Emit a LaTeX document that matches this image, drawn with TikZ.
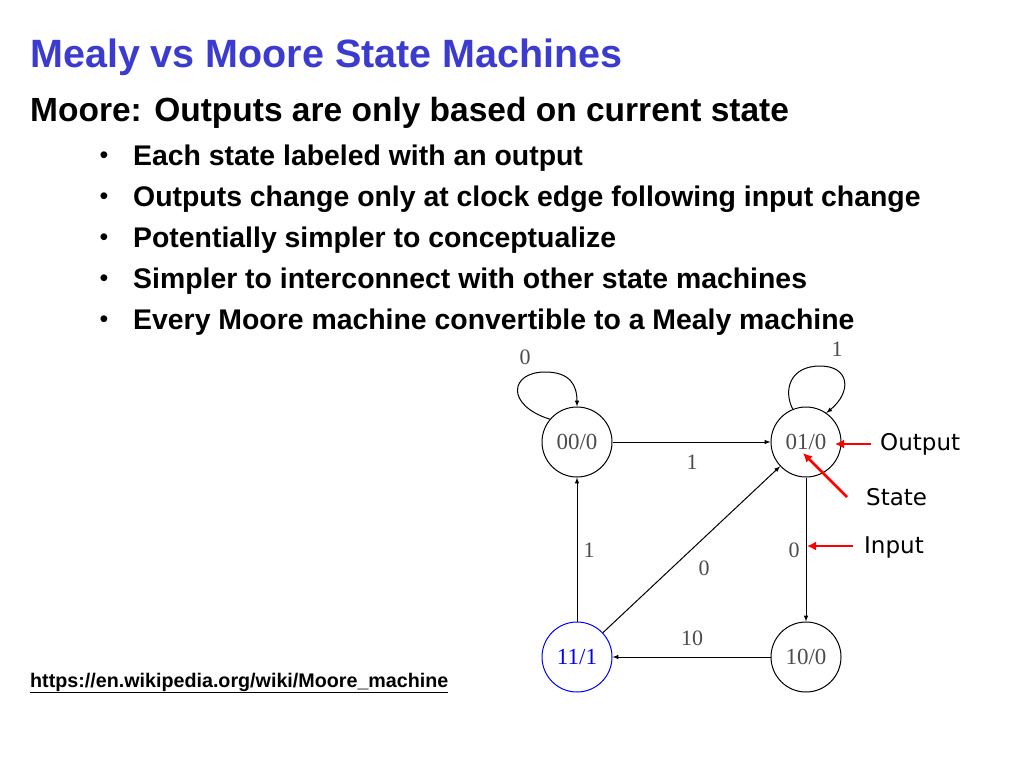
\documentclass[tikz,border=0pt]{standalone}
\usepackage{fontspec}
\setmainfont{Liberation Sans}
\newfontfamily\serifface{Liberation Serif}
\newfontfamily\labelface{DejaVu Sans}
\usetikzlibrary{automata, positioning, arrows, arrows.meta}
\definecolor{titleblue}{RGB}{59,59,208}
\tikzset{
x=1pt, y=-1pt,
>=latex, % filled arrow heads
every state/.style={draw, line width=1pt, minimum size=70pt, inner sep=0pt, font=\serifface\fontsize{23}{23}\selectfont, text=black!70},
edgelabel/.style={font=\serifface\fontsize{22}{22}\selectfont, text=black!70},
bullettext/.style={anchor=west, font=\bfseries\fontsize{28.4}{28.4}\selectfont},
hint/.style={anchor=center, font=\labelface\fontsize{23}{23}\selectfont},
pointer/.style={-{Latex[length=9pt,width=9pt]}, red, line width=2.5pt},
edge/.style={->, line width=1pt},
}
\begin{document}
\begin{tikzpicture}
        \useasboundingbox[fill=white] (0,0) rectangle (1024,768);
        \node[anchor=west, inner xsep=0pt, text=titleblue, font=\bfseries\fontsize{39.5}{39.5}\selectfont] (title) at (30,57) {Mealy vs Moore State Machines};
        \node[anchor=west, inner xsep=0pt, font=\bfseries\fontsize{33.5}{33.5}\selectfont] (moore) at (30,113) {Moore: Outputs are only based on current state};
        \foreach \y/\t [count=\i] in {158/Each state labeled with an output,
          199/Outputs change only at clock edge following input change,
          240/Potentially simpler to conceptualize,
          281/Simpler to interconnect with other state machines,
          322/Every Moore machine convertible to a Mealy machine} {
          \node[font=\fontsize{25}{25}\selectfont] (dot\i) at (104,\y) {\textbullet};
          \node[bullettext, inner xsep=0pt] (item\i) at (133,\y) {\t};
        }
        \node[anchor=west, inner xsep=0pt, font=\bfseries\fontsize{19.7}{19.7}\selectfont] (url) at (30,683) {\underline{https://en.wikipedia.org/wiki/Moore\_machine}};

        \node[state] (s00) at (577,442) {00/0};
        \node[state] (s01) at (806,442) {01/0};
        \node[state, draw=blue, text=blue] (s11) at (577,657) {11/1};
        \node[state] (s10) at (806,657) {10/0};

        \draw[edge] (s00) -- (s01);
        \draw[edge] (s01) -- (s10);
        \draw[edge] (s10) -- (s11);
        \draw[edge] (s11) -- (s00);
        \draw[edge] (s11) -- (s01);
        \draw[edge] (s00.140) .. controls (505,405) and (510,372) .. (545,372) .. controls (570,372) and (577,385) .. (s00.north);
        \draw[edge] (s01.112) .. controls (783,390) and (790,366) .. (820,366) .. controls (850,366) and (852,392) .. (s01.55);

        \node[edgelabel] (l0) at (525,357) {0};
        \node[edgelabel] (l1) at (837,349) {1};
        \node[edgelabel] (la) at (692,462) {1};
        \node[edgelabel] (lb) at (589,550) {1};
        \node[edgelabel] (lc) at (704,568) {0};
        \node[edgelabel] (ld) at (794,550) {0};
        \node[edgelabel] (le) at (692,638) {10};

        \node[hint, anchor=west, inner xsep=0pt] (out) at (880,444) {Output};
        \node[hint, anchor=west, inner xsep=0pt] (st) at (866,497) {State};
        \node[hint, anchor=west, inner xsep=0pt] (inp) at (864,547) {Input};
        \coordinate (outtip) at (835,444);
        \coordinate (sttip) at (803,453);
        \coordinate (inptip) at (807,546);
        \coordinate (sttail) at (847,497);
        \draw[pointer] (871,444) -- (outtip);
        \draw[pointer] (sttail) -- (sttip);
        \draw[pointer] (853,546) -- (inptip);
\end{tikzpicture}
\end{document}
